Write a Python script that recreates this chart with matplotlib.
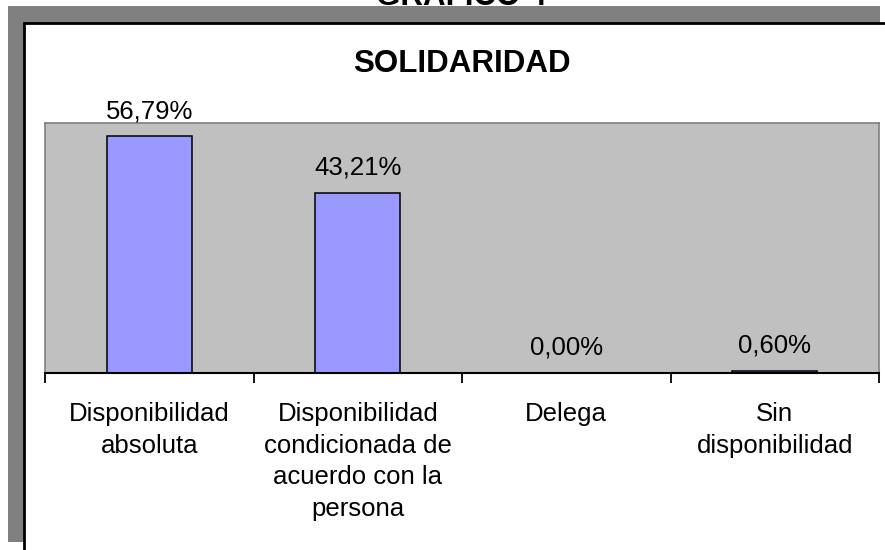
import matplotlib
matplotlib.use("Agg")
import matplotlib.pyplot as plt
from matplotlib.patches import Rectangle

plt.rcParams["font.family"] = ["Liberation Sans", "DejaVu Sans"]

categories = [
    "Disponibilidad\nabsoluta",
    "Disponibilidad\ncondicionada de\nacuerdo con la\npersona",
    "Delega",
    "Sin\ndisponibilidad",
]
values = [56.79, 43.21, 0.00, 0.60]
value_labels = ["56,79%", "43,21%", "0,00%", "0,60%"]

W, H = 885, 550
fig = plt.figure(figsize=(W / 100, H / 100), dpi=100)
fig.patch.set_facecolor("white")


def px(x0, y0, x1, y1):
    # pixel box (from top-left) -> figure fraction rect args
    return (x0 / W, 1 - y1 / H), (x1 - x0) / W, (y1 - y0) / H


# gray shadow frame behind the chart area
xy, w, h = px(8, 6, 880, 542)
fig.patches.append(Rectangle(xy, w, h, transform=fig.transFigure,
                             facecolor="#808080", edgecolor="none", zorder=0))
xy, w, h = px(23.5, 22.5, 900, 580)
fig.patches.append(Rectangle(xy, w, h, transform=fig.transFigure,
                             facecolor="white", edgecolor="black", linewidth=2, zorder=1))

fig.text(0.521, 1 - 5 / H, "GRAFICO 4", ha="center", va="baseline",
         fontsize=22.5, fontweight="bold", zorder=3)
fig.text(0.522, 1 - 72 / H, "SOLIDARIDAD", ha="center", va="baseline",
         fontsize=22.5, fontweight="bold", zorder=3)

(ax_l, ax_b), ax_w, ax_h = px(45, 123, 879, 373)
ax = fig.add_axes([ax_l, ax_b, ax_w, ax_h], zorder=2)
ax.set_facecolor("#C0C0C0")

x = range(len(categories))
bars = ax.bar(x, values, width=0.41, color="#9999FF", edgecolor="black", linewidth=1.1)
for b, lab in zip(bars, value_labels):
    ax.annotate(lab, (b.get_x() + b.get_width() / 2, b.get_height()),
                xytext=(0, 13), textcoords="offset points",
                ha="center", va="baseline", fontsize=18.5)

ax.set_xlim(-0.5, len(categories) - 0.5)
ax.set_ylim(0, 60)
ax.set_yticks([])
ax.set_xticks(list(x))
ax.set_xticklabels(categories, fontsize=18.5, linespacing=1.4)
ax.tick_params(axis="x", which="major", length=0, pad=21)
ax.set_xticks([i - 0.5 for i in range(len(categories) + 1)], minor=True)
ax.tick_params(axis="x", which="minor", length=7, width=1.3, color="black")

for side in ["top", "right", "left"]:
    ax.spines[side].set_color("#808080")
    ax.spines[side].set_linewidth(1.2)
ax.spines["bottom"].set_color("black")
ax.spines["bottom"].set_linewidth(1.5)

fig.savefig("out.png", dpi=100)
